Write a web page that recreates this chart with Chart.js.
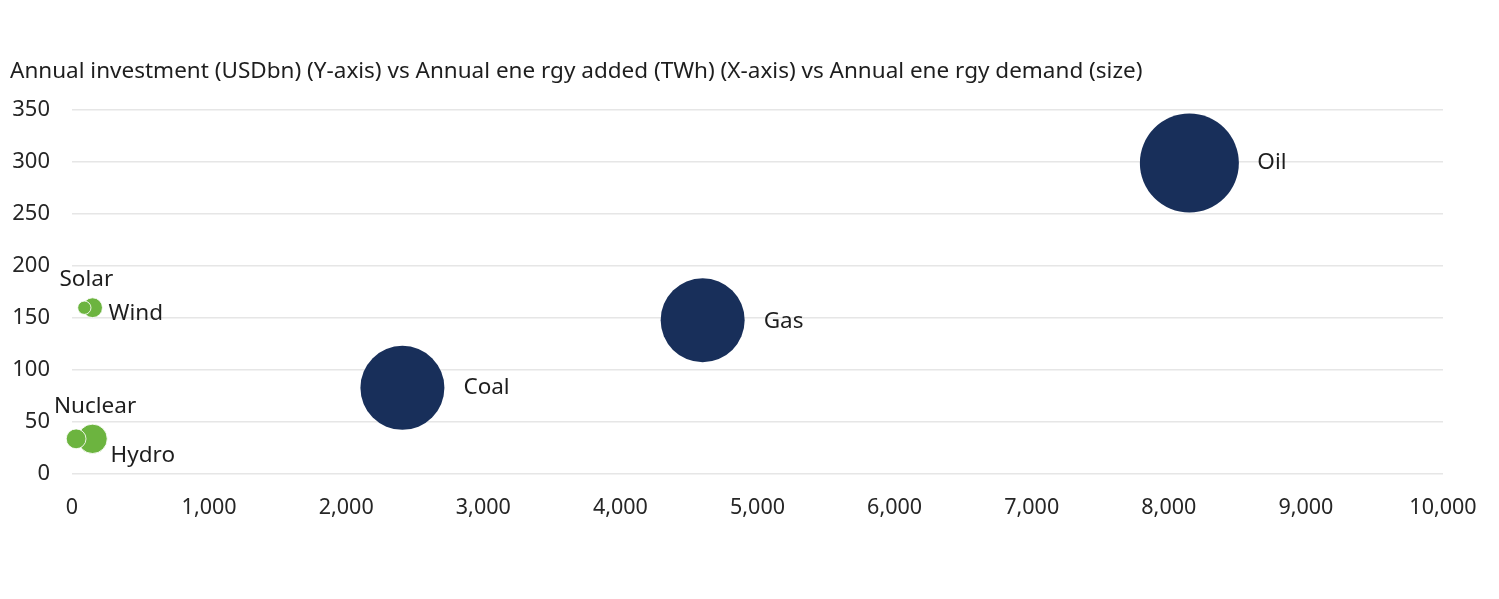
<!DOCTYPE html>
<html>
<head>
<meta charset="utf-8">
<script src="https://cdn.jsdelivr.net/npm/chart.js@4/dist/chart.umd.min.js"></script>
<style>
html,body{margin:0;padding:0;background:#fff;}
#wrap{width:1499px;height:599px;position:relative;}
</style>
</head>
<body>
<div id="wrap"><canvas id="c" width="1499" height="599"></canvas></div>
<script>
// ---- data ----
const categories = ["Solar", "Wind", "Nuclear", "Hydro", "Coal", "Gas", "Oil"];
const energyAddedTWh = [90, 150, 30, 150, 2410, 4600, 8150];      // x
const investmentUSDbn = [160, 160, 34, 34, 83, 148, 299];        // y
const energyDemandTWh = [900, 2000, 2000, 4400, 36000, 36000, 50000]; // size
const groups = ["clean", "clean", "clean", "clean", "fossil", "fossil", "fossil"];
const xTicks = [0, 1000, 2000, 3000, 4000, 5000, 6000, 7000, 8000, 9000, 10000];
const yTicks = [0, 50, 100, 150, 200, 250, 300, 350];
const titleText = "Annual investment (USDbn) (Y-axis) vs Annual ene rgy added (TWh) (X-axis) vs Annual ene rgy demand (size)";

// ---- styles ----
const colors = { clean: "#6cb43f", fossil: "#182f5a" };
const maxRadius = 49.5;
const maxDemand = Math.max(...energyDemandTWh);
const FONT = "'Noto Sans', 'Open Sans', sans-serif";
// label offsets relative to bubble centre: [dx, dy, align]
const labelPlacement = {
  Oil: [68, 0, "left"], Gas: [61, 1, "left"], Coal: [61, 0, "left"],
  Wind: [16, 6, "left"], Hydro: [18, 17, "left"],
  Solar: [2, -28, "center"], Nuclear: [19, -32, "center"]
};

const points = categories.map((c, i) => ({
  x: energyAddedTWh[i], y: investmentUSDbn[i],
  r: maxRadius * Math.sqrt(energyDemandTWh[i] / maxDemand),
  label: c
}));

const labelPlugin = {
  id: "bubbleLabels",
  afterDatasetsDraw(chart) {
    const ctx = chart.ctx;
    ctx.save();
    ctx.font = "22.5px " + FONT;
    ctx.fillStyle = "#1e1e1e";
    ctx.textBaseline = "middle";
    chart.data.datasets.forEach((ds, di) => {
      const meta = chart.getDatasetMeta(di);
      meta.data.forEach((el, i) => {
        const p = ds.data[i];
        const pl = labelPlacement[p.label];
        ctx.textAlign = pl[2];
        ctx.fillText(p.label, el.x + pl[0], el.y + pl[1]);
      });
    });
    ctx.restore();
  }
};

const ds = points.map((p, i) => ({
  label: p.label,
  data: [p],
  backgroundColor: colors[groups[i]],
  borderColor: groups[i] === "clean" ? "rgba(255,255,255,0.85)" : colors[groups[i]],
  borderWidth: groups[i] === "clean" ? 1 : 0,
  hoverRadius: 0,
  clip: false
}));

new Chart(document.getElementById("c"), {
  type: "bubble",
  data: { datasets: ds },
  plugins: [labelPlugin],
  options: {
    responsive: false,
    animation: false,
    layout: { padding: { left: 10, right: 56, top: 0, bottom: 57 } },
    plugins: {
      legend: { display: false },
      tooltip: { enabled: false },
      title: {
        display: true, text: titleText, align: "start",
        color: "#1e1e1e",
        font: { family: FONT, size: 22.5, weight: "normal" },
        padding: { top: 58, bottom: 25 }
      }
    },
    scales: {
      x: {
        type: "linear", min: 0, max: 10000,
        afterBuildTicks: s => { s.ticks = xTicks.map(v => ({ value: v })); },
        grid: { display: false, drawTicks: false },
        border: { display: false },
        ticks: {
          padding: 21, color: "#262626",
          font: { family: FONT, size: 21.5 },
          callback: v => v.toLocaleString("en-US")
        }
      },
      y: {
        type: "linear", min: 0, max: 350,
        afterBuildTicks: s => { s.ticks = yTicks.map(v => ({ value: v })); },
        afterFit: s => { s.width = 62; },
        grid: { color: "#e6e6e6", lineWidth: 1.5, drawTicks: false },
        border: { display: false },
        ticks: {
          padding: 22, color: "#262626",
          font: { family: FONT, size: 22 }
        }
      }
    }
  }
});
</script>
</body>
</html>
